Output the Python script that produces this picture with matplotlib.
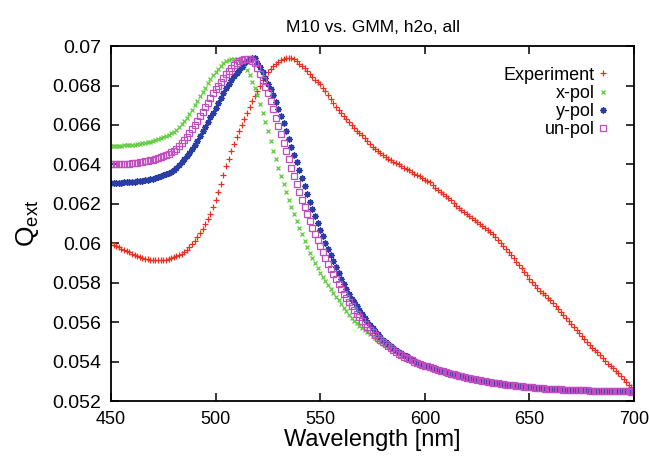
"""
Qext vs wavelength: experiment against GMM (x-pol, y-pol, un-pol).
"""
import matplotlib
matplotlib.use("Agg")
import matplotlib.pyplot as plt
from matplotlib.ticker import FixedLocator, FormatStrFormatter

# ======================================================================
wl = [450 + 1.25 * i for i in range(201)]  # wavelength grid [nm]

experiment = [
    0.0600, 0.05992, 0.05985, 0.05979, 0.05973, 0.05968, 0.05962, 0.05955,
    0.05948, 0.05941, 0.05935, 0.0593, 0.05925, 0.05921, 0.05918, 0.05916,
    0.05915, 0.05914, 0.05914, 0.05914, 0.05915, 0.05917, 0.05921, 0.05925,
    0.0593, 0.05935, 0.0594, 0.05947, 0.05955, 0.05966, 0.0598, 0.05994,
    0.0601, 0.0603, 0.0605, 0.06075, 0.0610, 0.06125, 0.0615, 0.06185,
    0.0622, 0.0626, 0.0630, 0.06345, 0.0639, 0.0643, 0.0647, 0.06505,
    0.0654, 0.0657, 0.0660, 0.0663, 0.0666, 0.0669, 0.0672, 0.06745,
    0.0677, 0.0680, 0.0683, 0.0685, 0.0687, 0.06885, 0.0690, 0.0691,
    0.0692, 0.06928, 0.06935, 0.06938, 0.0694, 0.06939, 0.06935, 0.06925,
    0.0691, 0.0690, 0.0689, 0.06875, 0.0686, 0.06845, 0.0683, 0.0682,
    0.0681, 0.0679, 0.0677, 0.0675, 0.0673, 0.0671, 0.0669, 0.06675,
    0.0666, 0.06645, 0.0663, 0.06615, 0.0660, 0.06585, 0.0657, 0.0656,
    0.0655, 0.06535, 0.0652, 0.06505, 0.0649, 0.0648, 0.0647, 0.0646,
    0.0645, 0.0644, 0.0643, 0.0642, 0.0641, 0.06405, 0.0640, 0.0639,
    0.0638, 0.06375, 0.0637, 0.0636, 0.0635, 0.06345, 0.0634, 0.0633,
    0.0632, 0.06315, 0.0631, 0.06295, 0.0628, 0.0627, 0.0626, 0.0625,
    0.0624, 0.0623, 0.0622, 0.06205, 0.0619, 0.0618, 0.0617, 0.0616,
    0.0615, 0.0614, 0.0613, 0.0612, 0.0611, 0.0610, 0.0609, 0.0608,
    0.0607, 0.06058, 0.06045, 0.0603, 0.06015, 0.0600, 0.05985, 0.0597,
    0.05955, 0.0594, 0.05925, 0.05905, 0.0589, 0.05875, 0.05855, 0.0584,
    0.0582, 0.05805, 0.0579, 0.05775, 0.0576, 0.0575, 0.0574, 0.05725,
    0.0571, 0.05695, 0.0568, 0.05665, 0.0565, 0.05635, 0.0562, 0.05605,
    0.0559, 0.05575, 0.0556, 0.05545, 0.0553, 0.05515, 0.0550, 0.05485,
    0.0547, 0.0546, 0.0545, 0.05435, 0.0542, 0.05405, 0.0539, 0.0538,
    0.0537, 0.05355, 0.0534, 0.05325, 0.0531, 0.05295, 0.0528, 0.0527,
    0.0526,
]

x_pol = [
    0.06493, 0.06493, 0.06494, 0.06494, 0.06495, 0.06496, 0.06497, 0.06498,
    0.0650, 0.06501, 0.06503, 0.06505, 0.06507, 0.06509, 0.06512, 0.06515,
    0.06518, 0.06522, 0.06527, 0.06532, 0.06538, 0.06544, 0.0655, 0.06557,
    0.06565, 0.06577, 0.0659, 0.06605, 0.0662, 0.06637, 0.06655, 0.06677,
    0.0670, 0.06722, 0.06745, 0.06768, 0.0679, 0.06812, 0.06835, 0.06853,
    0.0687, 0.06885, 0.0690, 0.06913, 0.06925, 0.0693, 0.06935, 0.06936,
    0.06935, 0.06929, 0.0692, 0.06903, 0.0688, 0.06852, 0.0682, 0.06787,
    0.0675, 0.06705, 0.0666, 0.06615, 0.0657, 0.0652, 0.0647, 0.06425,
    0.0638, 0.0634, 0.0630, 0.0626, 0.0622, 0.06185, 0.0615, 0.06115,
    0.0608, 0.06045, 0.0601, 0.0598, 0.0595, 0.05925, 0.0590, 0.05875,
    0.0585, 0.0583, 0.0581, 0.0579, 0.0577, 0.0575, 0.0573, 0.0571,
    0.0569, 0.05672, 0.05655, 0.05638, 0.0562, 0.05607, 0.05595, 0.05583,
    0.05572, 0.0556, 0.0555, 0.0554, 0.0553, 0.0552, 0.0551, 0.0550,
    0.0549, 0.05482, 0.05475, 0.05467, 0.0546, 0.05452, 0.05445, 0.05437,
    0.0543, 0.05424, 0.05418, 0.05412, 0.05406, 0.0540, 0.05394, 0.05387,
    0.05378, 0.05373, 0.05368, 0.05364, 0.0536, 0.05356, 0.05352, 0.05348,
    0.05345, 0.05341, 0.05338, 0.05334, 0.0533, 0.05326, 0.05323, 0.0532,
    0.05317, 0.05314, 0.05311, 0.05308, 0.05306, 0.05303, 0.05301, 0.05298,
    0.05296, 0.05294, 0.05292, 0.0529, 0.05288, 0.05286, 0.05284, 0.05282,
    0.0528, 0.05278, 0.05277, 0.05275, 0.05274, 0.05272, 0.05271, 0.0527,
    0.05269, 0.05267, 0.05266, 0.05265, 0.05264, 0.05263, 0.05262, 0.05261,
    0.0526, 0.0526, 0.05259, 0.05259, 0.05258, 0.05258, 0.05257, 0.05257,
    0.05256, 0.05256, 0.05255, 0.05255, 0.05254, 0.05254, 0.05253, 0.05253,
    0.05253, 0.05252, 0.05252, 0.05252, 0.05251, 0.05251, 0.05251, 0.0525,
    0.0525, 0.0525, 0.0525, 0.05249, 0.05249, 0.05249, 0.05248, 0.05248,
    0.05248,
]

y_pol = [
    0.06307, 0.06307, 0.06307, 0.06308, 0.06308, 0.06309, 0.0631, 0.06311,
    0.06312, 0.06313, 0.06315, 0.06316, 0.06318, 0.0632, 0.06322, 0.06325,
    0.06328, 0.06332, 0.06336, 0.0634, 0.06345, 0.0635, 0.06356, 0.06362,
    0.0637, 0.06382, 0.06395, 0.0641, 0.06425, 0.06442, 0.0646, 0.0648,
    0.0650, 0.0652, 0.06543, 0.06567, 0.0659, 0.06615, 0.0664, 0.06663,
    0.06685, 0.06712, 0.06738, 0.06763, 0.06788, 0.0681, 0.0683, 0.06848,
    0.06865, 0.0688, 0.06895, 0.06912, 0.06925, 0.06935, 0.0694, 0.0694,
    0.06915, 0.06895, 0.0687, 0.0684, 0.0681, 0.0678, 0.0675, 0.06715,
    0.0668, 0.06645, 0.0661, 0.0657, 0.0653, 0.0649, 0.0645, 0.0641,
    0.0637, 0.0633, 0.0629, 0.0625, 0.0621, 0.06175, 0.0614, 0.06105,
    0.0607, 0.06035, 0.0600, 0.0597, 0.0594, 0.0591, 0.0588, 0.0585,
    0.0582, 0.05795, 0.0577, 0.05745, 0.0572, 0.0570, 0.0568, 0.0566,
    0.0564, 0.0562, 0.0560, 0.05585, 0.0557, 0.05555, 0.0554, 0.05525,
    0.0551, 0.0550, 0.0549, 0.0548, 0.0547, 0.0546, 0.0545, 0.05442,
    0.05435, 0.05428, 0.0542, 0.05413, 0.05405, 0.05398, 0.0539, 0.05385,
    0.0538, 0.05376, 0.05372, 0.05368, 0.05364, 0.0536, 0.05356, 0.05352,
    0.05348, 0.05344, 0.0534, 0.05337, 0.05333, 0.0533, 0.05327, 0.05324,
    0.05321, 0.05318, 0.05315, 0.05312, 0.0531, 0.05307, 0.05305, 0.05302,
    0.0530, 0.05298, 0.05296, 0.05294, 0.05292, 0.0529, 0.05288, 0.05286,
    0.05284, 0.05282, 0.0528, 0.05279, 0.05277, 0.05276, 0.05274, 0.05273,
    0.05271, 0.0527, 0.05268, 0.05267, 0.05266, 0.05265, 0.05264, 0.05263,
    0.05262, 0.05261, 0.0526, 0.0526, 0.05259, 0.05259, 0.05258, 0.05258,
    0.05257, 0.05257, 0.05256, 0.05256, 0.05255, 0.05255, 0.05254, 0.05254,
    0.05253, 0.05253, 0.05253, 0.05252, 0.05252, 0.05252, 0.05251, 0.05251,
    0.05251, 0.0525, 0.0525, 0.0525, 0.05249, 0.05249, 0.05249, 0.05248,
    0.05248,
]

un_pol = [
    0.0640, 0.0640, 0.0640, 0.06401, 0.06401, 0.06402, 0.06403, 0.06404,
    0.06406, 0.06407, 0.06409, 0.06411, 0.06413, 0.06415, 0.06418, 0.0642,
    0.06423, 0.06427, 0.06432, 0.06437, 0.06442, 0.06448, 0.06454, 0.06461,
    0.06468, 0.0648, 0.06492, 0.06508, 0.06523, 0.0654, 0.06558, 0.06578,
    0.0660, 0.06621, 0.06644, 0.06667, 0.0669, 0.06713, 0.06737, 0.0676,
    0.0678, 0.0680, 0.0682, 0.0684, 0.06858, 0.06875, 0.0689, 0.06903,
    0.06915, 0.06924, 0.0693, 0.06934, 0.06935, 0.06933, 0.06925, 0.06912,
    0.0689, 0.0686, 0.0683, 0.06795, 0.0676, 0.0672, 0.0668, 0.06637,
    0.06595, 0.06553, 0.0651, 0.06467, 0.06425, 0.06382, 0.0634, 0.0630,
    0.0626, 0.06222, 0.06185, 0.0615, 0.06115, 0.0608, 0.06047, 0.06015,
    0.05985, 0.05955, 0.05925, 0.05897, 0.0587, 0.05843, 0.05817, 0.05792,
    0.05768, 0.05745, 0.05723, 0.05702, 0.05682, 0.05662, 0.05643, 0.05625,
    0.05608, 0.05592, 0.05577, 0.05562, 0.05548, 0.05535, 0.05522, 0.0551,
    0.05498, 0.05487, 0.05477, 0.05467, 0.05458, 0.05449, 0.0544, 0.05432,
    0.05425, 0.05418, 0.05412, 0.05406, 0.0540, 0.05393, 0.05387, 0.05382,
    0.0538, 0.05376, 0.05371, 0.05367, 0.05362, 0.05358, 0.05354, 0.0535,
    0.05346, 0.05343, 0.05339, 0.05336, 0.05332, 0.05328, 0.05325, 0.05322,
    0.05319, 0.05316, 0.05313, 0.0531, 0.05308, 0.05305, 0.05303, 0.0530,
    0.05298, 0.05296, 0.05294, 0.05292, 0.0529, 0.05288, 0.05286, 0.05284,
    0.05282, 0.0528, 0.05279, 0.05277, 0.05276, 0.05274, 0.05273, 0.05271,
    0.0527, 0.05269, 0.05267, 0.05266, 0.05265, 0.05264, 0.05263, 0.05262,
    0.05261, 0.0526, 0.0526, 0.05259, 0.05259, 0.05258, 0.05258, 0.05257,
    0.05257, 0.05256, 0.05256, 0.05255, 0.05255, 0.05254, 0.05254, 0.05253,
    0.05253, 0.05253, 0.05252, 0.05252, 0.05252, 0.05251, 0.05251, 0.05251,
    0.0525, 0.0525, 0.0525, 0.0525, 0.05249, 0.05249, 0.05249, 0.05248,
    0.05248,
]

x_ticks = [450, 500, 550, 600, 650, 700]
y_ticks = [0.052, 0.054, 0.056, 0.058, 0.06, 0.062, 0.064, 0.066, 0.068, 0.07]
# ======================================================================

plt.rcParams["font.family"] = ["Liberation Sans", "DejaVu Sans"]
plt.rcParams["mathtext.default"] = "regular"

fig = plt.figure(figsize=(6.49, 4.61), dpi=100)
ax = fig.add_axes([0.171, 0.130, 0.806, 0.770])

# ordem do gnuplot: experimento primeiro, un-pol por cima
ax.plot(wl, experiment, ls="none", marker="+", ms=4.5, mew=0.9,
        color="#e8311f", label="Experiment")
ax.plot(wl, x_pol, ls="none", marker="x", ms=3.5, mew=0.9,
        color="#5ccb3c", label="x-pol")
ax.plot(wl, y_pol, ls="none", marker=(8, 2, 0), ms=4.5, mew=1.0,
        color="#2b3ea5", label="y-pol")
ax.plot(wl, un_pol, ls="none", marker="s", ms=3.8, mew=0.9, mfc="none",
        color="#c04ec0", label="un-pol")

ax.set_xlim(450, 700)
ax.set_ylim(0.052, 0.07)
ax.xaxis.set_major_locator(FixedLocator(x_ticks))
ax.yaxis.set_major_locator(FixedLocator(y_ticks))
ax.yaxis.set_major_formatter(FormatStrFormatter("%g"))

ax.tick_params(direction="in", length=6, width=1.1, top=True, right=True,
               colors="black")
ax.tick_params(axis="x", pad=7, labelsize=13)
ax.tick_params(axis="y", pad=7, labelsize=14)
for sp in ax.spines.values():
    sp.set_linewidth(1.3)

ax.set_title("M10 vs. GMM, h2o, all", fontsize=12.5, pad=10)
ax.set_xlabel("Wavelength [nm]", fontsize=17, labelpad=1)
ax.set_ylabel("Q$_{ext}$", fontsize=19, labelpad=8)

ax.legend(loc="upper right", bbox_to_anchor=(0.963, 0.962), markerfirst=False,
          frameon=False, numpoints=1, handlelength=0.5, handletextpad=0.2,
          labelspacing=0.06, borderaxespad=0, fontsize=13)

fig.savefig("out.png", dpi=100)
